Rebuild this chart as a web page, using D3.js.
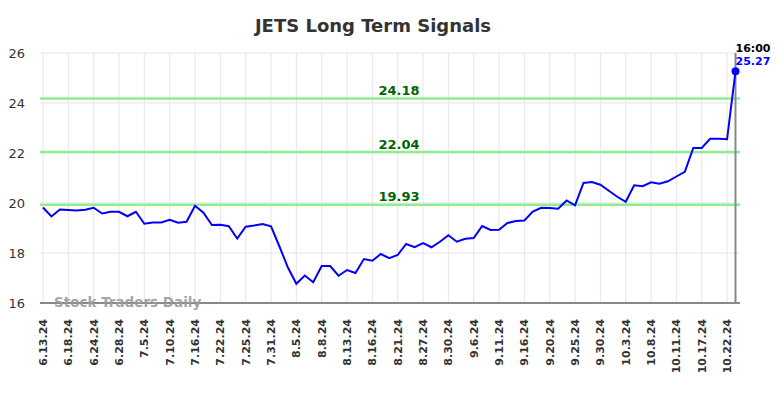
<!DOCTYPE html>
<html><head><meta charset="utf-8">
<script src="https://cdn.jsdelivr.net/npm/d3@7"></script>
<style>body{margin:0;background:#fff;}svg{display:block;font-family:"DejaVu Sans",sans-serif;}</style>
</head><body>
<script>
const title = "JETS Long Term Signals";
const tickLabels = ["6.13.24","6.18.24","6.24.24","6.28.24","7.5.24","7.10.24","7.16.24","7.22.24","7.25.24","7.31.24","8.5.24","8.8.24","8.13.24","8.16.24","8.21.24","8.27.24","8.30.24","9.6.24","9.11.24","9.16.24","9.20.24","9.25.24","9.30.24","10.3.24","10.8.24","10.11.24","10.17.24","10.22.24"];
const prices = [19.82,19.46,19.74,19.72,19.70,19.73,19.81,19.58,19.65,19.65,19.47,19.65,19.17,19.22,19.22,19.33,19.21,19.25,19.89,19.61,19.12,19.13,19.07,18.58,19.05,19.10,19.16,19.07,18.26,17.42,16.77,17.10,16.83,17.48,17.48,17.09,17.32,17.20,17.76,17.69,17.96,17.79,17.92,18.36,18.23,18.40,18.23,18.45,18.71,18.45,18.57,18.60,19.08,18.92,18.93,19.20,19.28,19.30,19.66,19.81,19.80,19.77,20.10,19.91,20.80,20.84,20.73,20.49,20.25,20.05,20.71,20.67,20.83,20.77,20.87,21.06,21.25,22.20,22.20,22.57,22.57,22.55,25.27];
const signalLevels = [24.18, 22.04, 19.93];
const yTicks = [16,18,20,22,24,26];
const lastTime = "16:00";
const watermark = "Stock Traders Daily";

(function(){
const W = 784, H = 398;
const svg = d3.select("body").append("svg").attr("width", W).attr("height", H);
const pl = 40, pr = 740, pt = 53, pb = 303;
const x = d3.scaleLinear().domain([0, prices.length - 1]).range([43, 735.5]);
const y = d3.scaleLinear().domain([16, 26]).range([pb, pt]);

svg.append("g").selectAll("line").data(yTicks).join("line")
  .attr("x1", pl).attr("x2", pr).attr("y1", d => y(d)).attr("y2", d => y(d))
  .attr("stroke", "#e6e6e6").attr("stroke-width", 1);
svg.append("g").selectAll("line").data(tickLabels).join("line")
  .attr("x1", (d,i) => x(i*3)).attr("x2", (d,i) => x(i*3)).attr("y1", pt).attr("y2", pb)
  .attr("stroke", "#e6e6e6").attr("stroke-width", 1);

svg.append("g").selectAll("text").data(yTicks).join("text")
  .attr("x", 25).attr("y", d => y(d) + 5).attr("text-anchor", "end")
  .attr("font-size", 13).attr("fill", "#333").text(d => d);

svg.append("g").selectAll("text").data(tickLabels).join("text")
  .attr("transform", (d,i) => `translate(${x(i*3)+4},319) rotate(-90)`)
  .attr("text-anchor", "end").attr("font-size", 11).attr("font-weight", "bold")
  .attr("fill", "#333").text(d => d);

svg.append("line").attr("x1", pl).attr("x2", pr).attr("y1", pb).attr("y2", pb)
  .attr("stroke", "#666").attr("stroke-width", 1.5);

svg.append("text").attr("x", 54).attr("y", 307).attr("font-size", 13.5).attr("font-weight", "bold")
  .attr("fill", "#999").attr("fill-opacity", 0.9).text(watermark);

signalLevels.forEach(v => {
  svg.append("line").attr("x1", pl).attr("x2", pr).attr("y1", y(v)).attr("y2", y(v))
    .attr("stroke", "#90ee90").attr("stroke-width", 2.5);
  svg.append("text").attr("x", 399).attr("y", y(v) - 3.5).attr("text-anchor", "middle")
    .attr("font-size", 13).attr("font-weight", "bold").attr("fill", "#006400").text(v.toFixed(2));
});

const li = prices.length - 1;
svg.append("line").attr("x1", x(li)).attr("x2", x(li)).attr("y1", pt).attr("y2", pb)
  .attr("stroke", "#888").attr("stroke-width", 2);

svg.append("path").datum(prices)
  .attr("d", d3.line().x((d,i) => x(i)).y(d => y(d)))
  .attr("fill", "none").attr("stroke", "#0000ff").attr("stroke-width", 2);
svg.append("circle").attr("cx", x(li)).attr("cy", y(prices[li])).attr("r", 4).attr("fill", "#0000ff");

svg.append("text").attr("x", x(li)).attr("y", 52).attr("font-size", 11).attr("font-weight", "bold")
  .attr("fill", "#000").text(lastTime);
svg.append("text").attr("x", x(li)).attr("y", 65).attr("font-size", 11).attr("font-weight", "bold")
  .attr("fill", "#0000ff").text(prices[li].toFixed(2));

svg.append("text").attr("x", 373).attr("y", 32).attr("text-anchor", "middle")
  .attr("font-size", 18).attr("font-weight", "bold").attr("fill", "#333").text(title);
})();
</script>
</body></html>
